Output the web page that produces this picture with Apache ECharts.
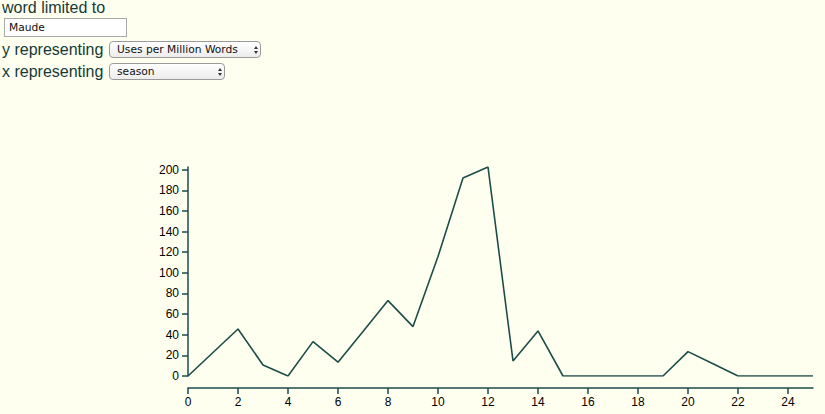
<!DOCTYPE html>
<html>
<head>
<meta charset="utf-8">
<script src="https://cdn.jsdelivr.net/npm/echarts@6/dist/echarts.min.js"></script>
<style>
  html, body { margin:0; padding:0; width:825px; height:414px; background:#fffff0; overflow:hidden; }
  #chart { position:absolute; left:0; top:0; width:825px; height:414px; }
  .lbl { position:absolute; left:2px; font-family:"Liberation Sans", Arial, sans-serif; font-size:16px; color:#143a37; line-height:16px; }
  .inp { position:absolute; left:4px; top:18px; border:1px solid #a9a9a9; background:#fff;
         font-family:"DejaVu Sans", sans-serif; font-size:10.7px; line-height:17px; padding-left:4px; box-sizing:border-box; width:123px; height:19px; color:#111; }
  .sel { position:absolute; left:109px; height:17px; border:1px solid #9a9a9a; border-radius:4px; box-sizing:border-box;
         background:linear-gradient(#ffffff,#ececec); font-family:"DejaVu Sans", sans-serif; font-size:10.7px; line-height:15px; padding-left:7px; color:#111; }
  .arr { position:absolute; right:6px; top:4px; width:0; height:0; }
  .arr:before { content:""; position:absolute; left:0; top:0; border-left:2.5px solid transparent; border-right:2.5px solid transparent; border-bottom:3px solid #333; }
  .arr:after { content:""; position:absolute; left:0; top:5px; border-left:2.5px solid transparent; border-right:2.5px solid transparent; border-top:3px solid #333; }
</style>
</head>
<body>
<div id="chart"></div>
<div class="lbl" style="top:0px;">word limited to</div>
<div class="inp">Maude</div>
<div class="lbl" style="top:42px;">y representing</div>
<div class="sel" style="top:41px; width:152px;">Uses per Million Words<span class="arr"></span></div>
<div class="lbl" style="top:64px;">x representing</div>
<div class="sel" style="top:63px; width:116px;">season<span class="arr"></span></div>
<script>
const seasons = [0,1,2,3,4,5,6,7,8,9,10,11,12,13,14,15,16,17,18,19,20,21,22,23,24,25];
const usesPerMillion = [0,22.8,45.6,10.7,0,33.3,13.4,43.2,73.1,47.9,115.8,191.9,202.6,14.6,43.7,0,0,0,0,0,23.6,11.8,0,0,0,0];

const axisColor = '#1d4d49';
const chart = echarts.init(document.getElementById('chart'), null, {renderer:'svg'});
chart.setOption({
  backgroundColor:'transparent',
  animation:false,
  grid:{left:188, right:12, top:167, bottom:38, containLabel:false},
  xAxis:{
    type:'value', min:0, max:25, interval:2, offset:12,
    axisLine:{show:true, onZero:false, lineStyle:{color:axisColor, width:1.5}},
    axisTick:{show:true, length:6, lineStyle:{color:axisColor, width:1.5}},
    splitLine:{show:false},
    axisLabel:{color:'#000', fontFamily:'Liberation Sans', fontSize:12, margin:8, showMaxLabel:false}
  },
  yAxis:{
    type:'value', min:0, max:'dataMax', interval:20,
    axisLine:{show:true, onZero:false, lineStyle:{color:axisColor, width:1.5}},
    axisTick:{show:true, length:6, lineStyle:{color:axisColor, width:1.5}},
    splitLine:{show:false},
    axisLabel:{color:'#000', fontFamily:'Liberation Sans', fontSize:12, margin:9, showMaxLabel:false}
  },
  series:[{
    type:'line',
    data: seasons.map((s,i)=>[s, usesPerMillion[i]]),
    showSymbol:false,
    lineStyle:{color:axisColor, width:1.6},
    itemStyle:{color:axisColor}
  }]
});
</script>
</body>
</html>
